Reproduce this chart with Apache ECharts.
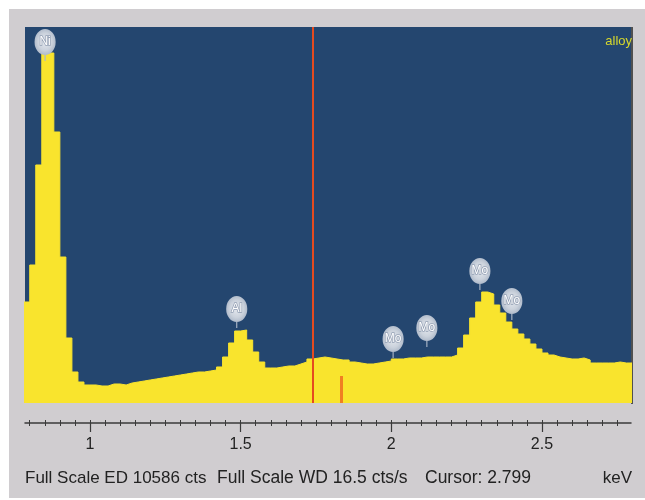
<!DOCTYPE html>
<html>
<head>
<meta charset="utf-8">
<script src="https://cdn.jsdelivr.net/npm/echarts@6/dist/echarts.min.js"></script>
<style>
  html, body { margin: 0; padding: 0; background: #fff; }
  #panel { position: absolute; left: 9px; top: 9px; width: 636px; height: 489px; background: #d0cdd0; }
  #chart { position: absolute; left: 0; top: 0; width: 645px; height: 500px; }
</style>
</head>
<body>
<div id="panel"></div>
<div id="chart"></div>
<script>
// spectrum channels (keV), counts per channel
var channelStart = 0.78;
var channelWidth = 0.02;
var counts = [
  2844, 3885, 6701, 9854, 9854, 7630, 4110, 1830, 873, 591,
  507, 507, 479, 479, 535, 535, 507, 563, 591, 619,
  648, 676, 704, 732, 760, 788, 816, 845, 873, 873,
  901, 929, 1014, 1295, 1689, 2027, 2055, 1774, 1436, 1154,
  985, 985, 1014, 1042, 1042, 1098, 1154, 1239, 1267, 1295,
  1267, 1239, 1211, 1211, 1154, 1126, 1098, 1098, 1126, 1154,
  1182, 1239, 1239, 1267, 1267, 1267, 1295, 1295, 1295, 1295,
  1295, 1351, 1548, 1914, 2393, 2844, 3125, 3069, 2759, 2534,
  2280, 2083, 1943, 1802, 1661, 1520, 1408, 1351, 1295, 1267,
  1239, 1239, 1267, 1211, 1126, 1126, 1126, 1126, 1154, 1126,
  1126
];
var fullScale = 10586;

// element markers (stem tip position)
var peakNames = ["Ni", "Al", "Mo", "Mo", "Mo", "Mo"];
var peakEnergies = [0.851, 1.487, 2.006, 2.118, 2.294, 2.400];
var peakCounts = [9630, 2112, 1267, 1577, 3181, 2337];

// cursor + WD marker
var cursorEnergy = 1.738;
var wdEnergy = 1.834;
var wdCounts = 760;

// axis
var axisMin = 0.7843;
var axisMax = 2.7955;
var majorTicks = [1, 1.5, 2, 2.5];
var tickLabels = ["1", "1.5", "2", "2.5"];

var minorTicks = [];
for (var t = 16; t <= 55; t++) {
  var v = Math.round(t * 5) / 100;
  if (majorTicks.indexOf(v) < 0) minorTicks.push(v);
}

var spectrum = counts.map(function (c, i) {
  return [Math.round((channelStart + i * channelWidth) * 1000) / 1000, c];
});
spectrum.push([Math.round((channelStart + counts.length * channelWidth) * 1000) / 1000, counts[counts.length - 1]]);

var peaks = peakNames.map(function (n, i) {
  return { name: n, value: [peakEnergies[i], peakCounts[i]] };
});

var font = '"Liberation Sans", Arial, sans-serif';
var textColor = "#222";
var axisColor = "#3a3a3a";

var baseAxis = {
  type: "value",
  min: axisMin,
  max: axisMax,
  position: "bottom",
  offset: 20,
  splitLine: { show: false },
};

var chart = echarts.init(document.getElementById("chart"));
var option = {
  animation: false,
  grid: {
    left: 25,
    top: 27,
    width: 606,
    height: 376,
    show: true,
    backgroundColor: "#24466f",
    borderWidth: 0,
  },
  xAxis: [
    Object.assign({}, baseAxis, {
      axisLine: { show: true, onZero: false, lineStyle: { color: axisColor, width: 1.5 } },
      axisTick: { customValues: majorTicks, length: 9, lineStyle: { color: axisColor, width: 1.2 } },
      axisLabel: {
        customValues: majorTicks,
        formatter: function (val) {
          var k = majorTicks.indexOf(Math.round(val * 100) / 100);
          return k >= 0 ? tickLabels[k] : "";
        },
        color: textColor,
        fontSize: 16,
        fontFamily: font,
        margin: 14,
      },
    }),
    Object.assign({}, baseAxis, {
      axisLine: { show: false, onZero: false },
      axisTick: { customValues: minorTicks, length: 3, lineStyle: { color: axisColor } },
      axisLabel: { show: false },
    }),
    Object.assign({}, baseAxis, {
      axisLine: { show: false, onZero: false },
      axisTick: { customValues: minorTicks.concat(majorTicks), inside: true, length: 3, lineStyle: { color: axisColor } },
      axisLabel: { show: false },
    }),
  ],
  yAxis: { type: "value", min: 0, max: fullScale, show: false },
  series: [
    {
      type: "line",
      data: spectrum,
      step: "end",
      symbol: "none",
      lineStyle: { color: "#f9e42d", width: 1 },
      areaStyle: { color: "#f9e42d", opacity: 1 },
      markLine: {
        silent: true,
        symbol: ["none", "none"],
        label: { show: false },
        data: [
          { xAxis: cursorEnergy, lineStyle: { color: "#e54b1f", width: 2, type: "solid" } },
          [
            { coord: [wdEnergy, 0], lineStyle: { color: "#f07f22", width: 3, type: "solid" } },
            { coord: [wdEnergy, wdCounts] },
          ],
        ],
      },
      z: 2,
    },
    {
      type: "scatter",
      data: peaks,
      symbol: "path://M13 0A13 13 0 1 1 12.99 0ZM12.3 25.5H13.7V32H12.3Z",
      symbolSize: [26, 32],
      symbolKeepAspect: true,
      symbolOffset: [0, "-50%"],
      itemStyle: {
        opacity: 1,
        color: {
          type: "radial",
          x: 0.5,
          y: 0.4,
          r: 0.55,
          colorStops: [
            { offset: 0, color: "#e4e8ee" },
            { offset: 0.6, color: "#cbd2dc" },
            { offset: 1, color: "#a9b5c6" },
          ],
        },
      },
      label: {
        show: true,
        position: "inside",
        offset: [0, -3],
        formatter: "{b}",
        color: "#fff",
        fontSize: 12,
        fontFamily: font,
        textBorderColor: "#95a1b5",
        textBorderWidth: 1.5,
      },
      z: 5,
    },
  ],
  graphic: [
    { type: "line", shape: { x1: 632, y1: 27, x2: 632, y2: 404 }, style: { stroke: "#505050", lineWidth: 2 } },
    { type: "text", x: 632, y: 41, style: { text: "alloy", fill: "#d6d82c", font: "13px " + font, align: "right", verticalAlign: "middle" } },
    { type: "text", x: 25, y: 478, style: { text: "Full Scale ED 10586 cts", fill: textColor, font: "17px " + font, verticalAlign: "middle" } },
    { type: "text", x: 217, y: 478, style: { text: "Full Scale WD 16.5 cts/s", fill: textColor, font: "17.5px " + font, verticalAlign: "middle" } },
    { type: "text", x: 425, y: 478, style: { text: "Cursor: 2.799", fill: textColor, font: "17.5px " + font, verticalAlign: "middle" } },
    { type: "text", x: 632, y: 478, style: { text: "keV", fill: textColor, font: "17px " + font, align: "right", verticalAlign: "middle" } },
  ],
};
chart.setOption(option);
</script>
</body>
</html>
